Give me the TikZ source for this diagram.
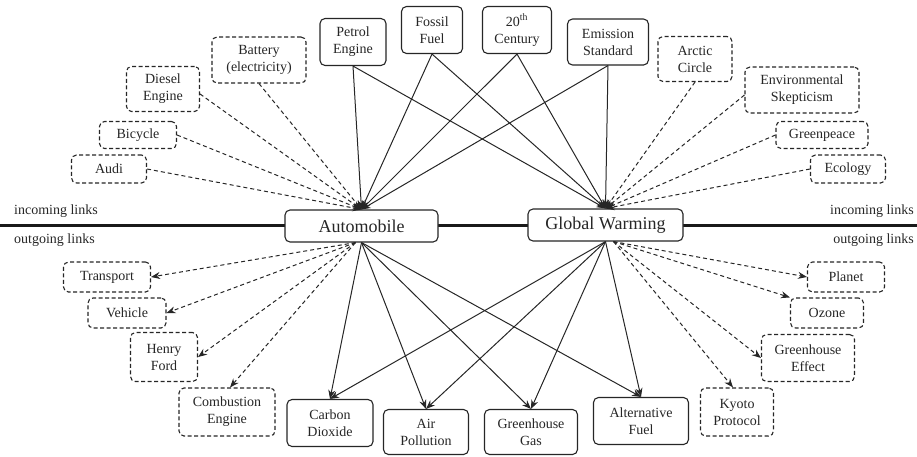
\documentclass[tikz,border=0pt]{standalone}
\usepackage{fontspec}
\setmainfont{Liberation Serif}
\usetikzlibrary{arrows.meta}
\begin{document}
\begin{tikzpicture}[x=1pt,y=-1pt,
  box/.style={draw=black!85, rounded corners=5pt, fill=white, line width=1.1pt, inner sep=1pt, align=center, font=\fontsize{14}{17}\selectfont, text=black!85},
  dbox/.style={box, dash pattern=on 4pt off 2.5pt},
  big/.style={box, font=\fontsize{18}{21}\selectfont},
  sz/.style 2 args={minimum width=#1, minimum height=#2},
  link/.style={line width=1pt, draw=black!85, -{Stealth[length=9pt,width=7pt]}},
  dlink/.style={link, dash pattern=on 4pt off 3pt},
  lbl/.style={font=\fontsize{14}{17}\selectfont, text=black!85, inner sep=0pt},
]
\useasboundingbox (0,0) rectangle (917,456);
\coordinate (hl) at (0,225);
\coordinate (hr) at (917,225);
\draw[line width=3pt, black!90] (hl) -- (hr);

\node[lbl, anchor=west] (inL) at (14,211) {incoming links};
\node[lbl, anchor=west] (outL) at (14,240) {outgoing links};
\node[lbl, anchor=east] (inR) at (914,211) {incoming links};
\node[lbl, anchor=east] (outR) at (914,240) {outgoing links};

% main nodes
\node[big, sz={153pt}{32pt}] (auto) at (361.5,226) {Automobile};
\node[big, sz={155pt}{32pt}] (gw) at (605.5,225) {Global Warming};

% top solid
\node[box, sz={66pt}{47pt}] (petrol) at (353,42) {Petrol\\Engine};
\node[box, sz={61pt}{47pt}] (fossil) at (432,30) {Fossil\\Fuel};
\node[box, sz={69pt}{47pt}] (cent) at (517,30) {20\textsuperscript{th}\\Century};
\node[box, sz={81pt}{46pt}] (emis) at (608,42) {Emission\\Standard};

% top-left dashed
\node[dbox, sz={94pt}{46pt}] (battery) at (259,60) {Battery\\(electricity)};
\node[dbox, sz={73pt}{45pt}] (diesel) at (163,89) {Diesel\\Engine};
\node[dbox, sz={77pt}{27pt}] (bicycle) at (138,135) {Bicycle};
\node[dbox, sz={75pt}{28pt}] (audi) at (109,169) {Audi};

% top-right dashed
\node[dbox, sz={74pt}{45pt}] (arctic) at (695,59) {Arctic\\Circle};
\node[dbox, sz={114pt}{46pt}] (env) at (802,90) {Environmental\\Skepticism};
\node[dbox, sz={92pt}{27pt}] (green) at (822,135) {Greenpeace};
\node[dbox, sz={75pt}{28pt}] (eco) at (848,169) {Ecology};

% bottom-left dashed
\node[dbox, sz={87pt}{30pt}] (transport) at (107,277) {Transport};
\node[dbox, sz={78pt}{30pt}] (vehicle) at (127,313) {Vehicle};
\node[dbox, sz={67pt}{49pt}] (henry) at (164,357) {Henry\\Ford};
\node[dbox, sz={96pt}{48pt}] (comb) at (227,412) {Combustion\\Engine};

% bottom solid
\node[box, sz={86pt}{47pt}] (carbon) at (330,423) {Carbon\\Dioxide};
\node[box, sz={85pt}{45pt}] (air) at (426,432) {Air\\Pollution};
\node[box, sz={93pt}{45pt}] (ghg) at (531,432) {Greenhouse\\Gas};
\node[box, sz={95pt}{47pt}] (alt) at (641,421) {Alternative\\Fuel};

% bottom-right dashed
\node[dbox, sz={77pt}{30pt}] (planet) at (846,277) {Planet};
\node[dbox, sz={73pt}{30pt}] (ozone) at (827,313) {Ozone};
\node[dbox, sz={93pt}{47pt}] (gheff) at (808,358) {Greenhouse\\Effect};
\node[dbox, sz={73pt}{48pt}] (kyoto) at (737,412) {Kyoto\\Protocol};

% incoming solid links
\foreach \n in {petrol,fossil,cent,emis}{
  \draw[link] (\n.south) -- (auto.north);
  \draw[link] (\n.south) -- (gw.north);
}
% incoming dashed to Automobile
\draw[dlink] (audi.east) -- (auto.north);
\draw[dlink] (bicycle.east) -- (auto.north);
\draw[dlink] ([yshift=-5pt]diesel.east) -- (auto.north);
\draw[dlink] (battery.south) -- (auto.north);
% incoming dashed to Global Warming
\draw[dlink] (arctic.south) -- (gw.north);
\draw[dlink] ([yshift=-5pt]env.west) -- (gw.north);
\draw[dlink] (green.west) -- (gw.north);
\draw[dlink] (eco.west) -- (gw.north);

% outgoing solid links
\foreach \n in {carbon,air,ghg,alt}{
  \draw[link] (auto.south) -- (\n.north);
  \draw[link] (gw.south) -- (\n.north);
}
% outgoing dashed from Automobile
\draw[dlink] ([xshift=-6pt]auto.south) -- (transport.east);
\draw[dlink] ([xshift=-6pt]auto.south) -- (vehicle.east);
\draw[dlink] ([xshift=-6pt]auto.south) -- (henry.east);
\draw[dlink] ([xshift=-6pt]auto.south) -- ([xshift=3pt]comb.north);
% outgoing dashed from Global Warming
\draw[dlink] ([xshift=8pt]gw.south) -- (planet.west);
\draw[dlink] ([xshift=8pt]gw.south) -- (ozone.north west);
\draw[dlink] ([xshift=8pt]gw.south) -- (gheff.west);
\draw[dlink] ([xshift=8pt]gw.south) -- ([xshift=-4pt]kyoto.north);
\end{tikzpicture}
\end{document}
